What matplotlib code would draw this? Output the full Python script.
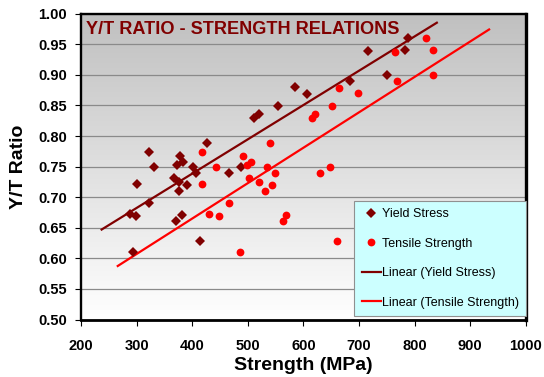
"""
Y/T ratio vs strength scatter with linear trend lines (Excel-style chart).
"""

import numpy as np
import matplotlib
matplotlib.use("Agg")
import matplotlib.pyplot as plt

plt.rcParams["font.family"] = ["Liberation Sans", "DejaVu Sans"]

# yield stress points (MPa, Y/T ratio)
yield_x = [426, 323, 378, 384, 373, 331, 401, 407, 367, 377, 301, 391, 376, 322,
           288, 299, 381, 371, 414, 294, 467, 488, 584, 607, 554, 521, 511, 788,
           717, 782, 751, 684]
yield_y = [0.789, 0.774, 0.768, 0.758, 0.752, 0.749, 0.749, 0.739, 0.732, 0.725,
           0.722, 0.720, 0.710, 0.691, 0.673, 0.670, 0.671, 0.661, 0.629, 0.611,
           0.739, 0.749, 0.880, 0.869, 0.849, 0.836, 0.829, 0.961, 0.939, 0.940,
           0.900, 0.890]

# tensile strength points
tensile_x = [418, 539, 492, 442, 498, 505, 535, 549, 503, 520, 543, 531, 418, 467,
             430, 448, 569, 563, 486, 630, 648, 621, 616, 821, 833, 764, 834, 768,
             664, 698, 652, 660]
tensile_y = [0.774, 0.789, 0.768, 0.750, 0.753, 0.758, 0.750, 0.739, 0.731, 0.725,
             0.720, 0.710, 0.721, 0.691, 0.673, 0.670, 0.671, 0.661, 0.610, 0.739,
             0.750, 0.836, 0.830, 0.961, 0.941, 0.938, 0.900, 0.890, 0.879, 0.871,
             0.849, 0.629]

# x extent of the drawn trend lines
yield_fit_range = [237, 840]
tensile_fit_range = [266, 934]

x_ticks = [200, 300, 400, 500, 600, 700, 800, 900, 1000]
y_ticks = [0.50, 0.55, 0.60, 0.65, 0.70, 0.75, 0.80, 0.85, 0.90, 0.95, 1.00]

DARK_RED = "#800000"
RED = "#ff0000"

fig = plt.figure(figsize=(5.44, 3.77), dpi=100)
fig.patch.set_facecolor("white")
ax = fig.add_axes([0.149, 0.1525, 0.8175, 0.8112])

# grey-to-white gradient background
grad = np.linspace(0, 1, 256).reshape(-1, 1)
ax.imshow(grad, extent=[0, 1, 0, 1], transform=ax.transAxes, aspect="auto",
          cmap=matplotlib.colors.LinearSegmentedColormap.from_list("bg", ["#ffffff", "#c0c0c0"]),
          origin="lower", zorder=0)

ax.set_xlim(200, 1000)
ax.set_ylim(0.5, 1.0)
ax.set_xticks(x_ticks)
ax.set_yticks(y_ticks)
ax.set_yticklabels([f"{v:.2f}" for v in y_ticks])
ax.yaxis.grid(True, color="#8a8a8a", linewidth=0.9, zorder=1)
ax.set_axisbelow(True)

for sp in ax.spines.values():
    sp.set_linewidth(1.7)
    sp.set_color("black")
ax.spines["right"].set_linewidth(2.4)
ax.spines["bottom"].set_linewidth(2.0)

ax.tick_params(axis="x", direction="out", length=4, width=0.8, pad=10, labelsize=10.5)
ax.tick_params(axis="y", direction="out", length=4, width=0.8, pad=6, labelsize=10.5)
for lab in ax.get_xticklabels() + ax.get_yticklabels():
    lab.set_fontweight("bold")

# trend lines from least-squares fit
ky = np.polyfit(yield_x, yield_y, 1)
kt = np.polyfit(tensile_x, tensile_y, 1)
ax.plot(yield_fit_range, np.polyval(ky, yield_fit_range), color=DARK_RED, lw=1.6,
        zorder=3, label="Linear (Yield Stress)")
ax.plot(tensile_fit_range, np.polyval(kt, tensile_fit_range), color=RED, lw=1.6,
        zorder=3, label="Linear (Tensile Strength)")

ax.plot(yield_x, yield_y, "D", color=DARK_RED, ms=4.8, mew=0, zorder=4,
        label="Yield Stress")
ax.plot(tensile_x, tensile_y, "o", color=RED, ms=5.6, mew=0, zorder=4,
        label="Tensile Strength")

handles, labels = ax.get_legend_handles_labels()
order = [2, 3, 0, 1]
leg = ax.legend([handles[i] for i in order], [labels[i] for i in order],
                loc="lower left", bbox_to_anchor=(0.614, 0.011), borderaxespad=0,
                fontsize=9, fancybox=False, framealpha=1, facecolor="#ccffff",
                edgecolor="#909090", handlelength=1.55, handletextpad=0.08,
                labelspacing=1.4, borderpad=0.6)
leg.get_frame().set_linewidth(0.8)
leg.set_zorder(5)

ax.text(0.01, 0.947, "Y/T RATIO - STRENGTH RELATIONS", transform=ax.transAxes,
        ha="left", va="center", fontsize=13.1, fontweight="bold", color=DARK_RED, zorder=5)

ax.set_xlabel("Strength (MPa)", fontsize=14, fontweight="bold", labelpad=3)
ax.set_ylabel("Y/T Ratio", fontsize=14, fontweight="bold", labelpad=8)

fig.savefig("out.png", dpi=100, facecolor="white")
